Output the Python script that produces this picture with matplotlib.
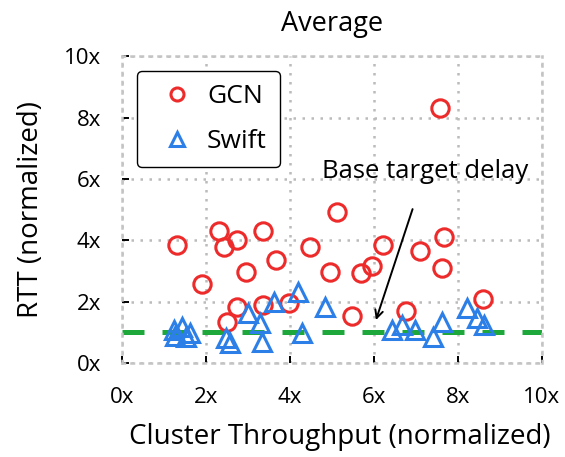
import matplotlib
matplotlib.use("Agg")
import matplotlib.pyplot as plt

plt.rcParams['font.family'] = ['Open Sans', 'DejaVu Sans']

# GCN (red circles)
gcn_x = [1.30, 2.30, 2.42, 2.73, 3.37, 1.90, 2.95, 3.67, 4.48, 5.12, 4.96, 5.69,
         5.95, 6.23, 7.10, 7.66, 7.62, 2.73, 2.50, 3.35, 3.99, 5.48, 6.77, 8.59, 7.58]
gcn_y = [3.86, 4.32, 3.80, 4.02, 4.32, 2.58, 2.97, 3.37, 3.78, 4.93, 2.97, 2.93,
         3.18, 3.86, 3.64, 4.11, 3.10, 1.84, 1.33, 1.90, 1.97, 1.54, 1.70, 2.09, 8.33]

# Swift (blue triangles)
swift_x = [1.24, 1.42, 1.53, 1.62, 1.26, 2.48, 2.57, 3.00, 3.29, 3.33, 3.61, 4.20,
           4.28, 4.84, 6.43, 6.67, 6.98, 7.42, 7.62, 8.22, 8.46, 8.63]
swift_y = [1.08, 1.19, 0.86, 0.97, 0.88, 0.80, 0.64, 1.62, 1.30, 0.69, 2.00, 2.33,
           0.97, 1.84, 1.08, 1.24, 1.08, 0.86, 1.35, 1.79, 1.46, 1.24]

base_delay = 1.0
ticks = [0, 2, 4, 6, 8, 10]
tick_labels = ["0x", "2x", "4x", "6x", "8x", "10x"]

fig = plt.figure(figsize=(5.65, 4.57), dpi=100)
ax = fig.add_axes([0.2159, 0.2057, 0.7429, 0.6707])

red = "#ee2b2b"
blue = "#2d7fe8"
green = "#1ea83c"

ax.plot([0, 10], [base_delay, base_delay], color=green, lw=3.6,
        dashes=(4.4, 3.6), zorder=2, solid_capstyle='butt', dash_capstyle='butt')

ax.plot(gcn_x, gcn_y, linestyle='none', marker='o', markersize=12.5,
        markerfacecolor='none', markeredgecolor=red, markeredgewidth=2.2,
        label="GCN", zorder=3)
ax.plot(swift_x, swift_y, linestyle='none', marker='^', markersize=12.5,
        markerfacecolor='none', markeredgecolor=blue, markeredgewidth=2.2,
        label="Swift", zorder=3)

ax.set_xlim(0, 10)
ax.set_ylim(0, 10)
ax.set_xticks(ticks)
ax.set_xticklabels(tick_labels)
ax.set_yticks(ticks)
ax.set_yticklabels(tick_labels)
ax.tick_params(direction='in', length=5, width=1.4, color='black',
               labelsize=16)
ax.tick_params(axis='y', pad=15)
ax.tick_params(axis='x', pad=17)

ax.grid(True, color='#bbbbbb', linestyle=(0, (1, 2.6)), linewidth=1.8)
ax.set_axisbelow(True)
for s in ax.spines.values():
    s.set_color('#c4c4c4')
    s.set_linestyle((0, (1, 2.6)))
    s.set_linewidth(1.8)

ax.set_title("Average", fontsize=19.5, pad=18)
ax.set_xlabel("Cluster Throughput (normalized)", fontsize=20)
ax.xaxis.set_label_coords(0.52, -0.197)
ax.set_ylabel("RTT (normalized)", fontsize=20, labelpad=14)

leg = ax.legend(loc='upper left', bbox_to_anchor=(0.036, 0.953), fontsize=19,
                borderaxespad=0, frameon=True, fancybox=True, edgecolor='black',
                framealpha=1, markerscale=0.75, handlelength=2.0,
                handletextpad=0.15, borderpad=0.5, labelspacing=0.75,
                markerfirst=True)
leg.get_frame().set_linewidth(1.0)

ax.annotate("Base target delay", xy=(6.05, 1.40), xytext=(7.22, 6.25),
            fontsize=18.5, ha='center', va='center',
            arrowprops=dict(arrowstyle='->', color='black', lw=1.4,
                            shrinkA=17, shrinkB=0, mutation_scale=14))

fig.savefig("out.png", dpi=100)
